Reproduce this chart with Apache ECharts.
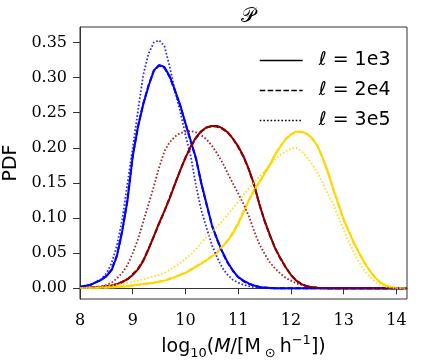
<!DOCTYPE html>
<html>
<head>
<meta charset="utf-8">
<script src="https://cdn.jsdelivr.net/npm/echarts@6/dist/echarts.min.js"></script>
<style>html,body{margin:0;padding:0;background:#fff;}#c{width:424px;height:364px;}</style>
</head>
<body>
<div id="c"></div>
<script>
// x grid (log10 M)
const xs = [8.0, 8.2, 8.4, 8.5, 8.6, 8.7, 8.8, 8.9,
  9.0, 9.1, 9.2, 9.3, 9.4, 9.5, 9.6, 9.7, 9.8, 9.9,
  10.0, 10.1, 10.2, 10.3, 10.4, 10.5, 10.6, 10.7, 10.8, 10.9,
  11.0, 11.1, 11.2, 11.3, 11.4, 11.5, 11.6, 11.7, 11.8, 11.9,
  12.0, 12.1, 12.2, 12.3, 12.4, 12.5, 12.6, 12.7, 12.8, 12.9,
  13.0, 13.1, 13.2, 13.3, 13.4, 13.5, 13.6, 13.7, 13.8, 13.9,
  14.0, 14.2];

// blue
const blueSolid = [0.002, 0.005, 0.012, 0.017, 0.026, 0.046, 0.081, 0.125,
  0.188, 0.230, 0.262, 0.288, 0.310, 0.318, 0.315, 0.302, 0.282, 0.261,
  0.235, 0.210, 0.185, 0.150, 0.120, 0.090, 0.070, 0.052, 0.037, 0.025,
  0.016, 0.011, 0.007, 0.004, 0.002, 0.001, 0.0005, 0, 0, 0,
  0, 0, 0, 0, 0, 0, 0, 0, 0, 0,
  0, 0, 0, 0, 0, 0, 0, 0, 0, 0,
  0, 0];
const blueDashed = [0.002, 0.005, 0.012, 0.018, 0.027, 0.047, 0.082, 0.126,
  0.189, 0.231, 0.263, 0.289, 0.310, 0.317, 0.314, 0.301, 0.281, 0.260,
  0.234, 0.209, 0.184, 0.149, 0.119, 0.090, 0.069, 0.051, 0.036, 0.025,
  0.016, 0.010, 0.006, 0.004, 0.002, 0.001, 0.0005, 0, 0, 0,
  0, 0, 0, 0, 0, 0, 0, 0, 0, 0,
  0, 0, 0, 0, 0, 0, 0, 0, 0, 0,
  0, 0];
const blueDotted = [0.002, 0.005, 0.013, 0.021, 0.036, 0.061, 0.098, 0.149,
  0.200, 0.253, 0.304, 0.334, 0.350, 0.353, 0.345, 0.316, 0.281, 0.252,
  0.218, 0.188, 0.146, 0.111, 0.086, 0.062, 0.044, 0.029, 0.019, 0.012,
  0.008, 0.005, 0.003, 0.0015, 0.001, 0.0005, 0, 0, 0, 0,
  0, 0, 0, 0, 0, 0, 0, 0, 0, 0,
  0, 0, 0, 0, 0, 0, 0, 0, 0, 0,
  0, 0];

// dark red
const redSolid = [0.0005, 0.001, 0.002, 0.003, 0.004, 0.006, 0.009, 0.013,
  0.019, 0.027, 0.039, 0.056, 0.074, 0.093, 0.110, 0.128, 0.148, 0.168,
  0.186, 0.202, 0.215, 0.224, 0.229, 0.231, 0.231, 0.228, 0.222, 0.213,
  0.202, 0.188, 0.170, 0.148, 0.120, 0.096, 0.076, 0.057, 0.043, 0.030,
  0.019, 0.011, 0.006, 0.003, 0.0015, 0.0008, 0.0003, 0, 0, 0,
  0, 0, 0, 0, 0, 0, 0, 0, 0, 0,
  0, 0];
const redDashed = [0.0005, 0.001, 0.002, 0.003, 0.004, 0.006, 0.009, 0.013,
  0.020, 0.028, 0.040, 0.056, 0.074, 0.092, 0.110, 0.129, 0.149, 0.168,
  0.186, 0.201, 0.214, 0.223, 0.229, 0.231, 0.230, 0.227, 0.222, 0.213,
  0.201, 0.187, 0.169, 0.147, 0.120, 0.096, 0.075, 0.057, 0.042, 0.030,
  0.019, 0.011, 0.006, 0.003, 0.0015, 0.0008, 0.0003, 0, 0, 0,
  0, 0, 0, 0, 0, 0, 0, 0, 0, 0,
  0, 0];
const redDotted = [0.0005, 0.001, 0.003, 0.005, 0.008, 0.014, 0.022, 0.033,
  0.050, 0.070, 0.095, 0.120, 0.145, 0.172, 0.195, 0.208, 0.216, 0.221,
  0.223, 0.224, 0.222, 0.218, 0.212, 0.203, 0.192, 0.179, 0.164, 0.149,
  0.135, 0.120, 0.103, 0.082, 0.063, 0.049, 0.037, 0.028, 0.021, 0.015,
  0.011, 0.007, 0.005, 0.003, 0.002, 0.001, 0.0005, 0, 0, 0,
  0, 0, 0, 0, 0, 0, 0, 0, 0, 0,
  0, 0];

// gold
const goldSolid = [0.0003, 0.0005, 0.001, 0.0012, 0.0015, 0.002, 0.0025, 0.003,
  0.004, 0.005, 0.006, 0.007, 0.008, 0.009, 0.011, 0.013, 0.016, 0.019,
  0.022, 0.026, 0.031, 0.035, 0.040, 0.045, 0.051, 0.059, 0.068, 0.078,
  0.092, 0.108, 0.125, 0.139, 0.151, 0.163, 0.176, 0.190, 0.202, 0.212,
  0.219, 0.223, 0.223, 0.220, 0.214, 0.203, 0.186, 0.165, 0.142, 0.119,
  0.098, 0.080, 0.064, 0.049, 0.036, 0.024, 0.015, 0.008, 0.004, 0.0015,
  0.0005, 0];
const goldDashed = [0.0003, 0.0005, 0.001, 0.0012, 0.0015, 0.002, 0.0025, 0.003,
  0.004, 0.005, 0.006, 0.007, 0.008, 0.010, 0.011, 0.014, 0.016, 0.020,
  0.022, 0.027, 0.031, 0.036, 0.040, 0.046, 0.051, 0.060, 0.068, 0.080,
  0.093, 0.110, 0.125, 0.141, 0.151, 0.165, 0.176, 0.191, 0.202, 0.213,
  0.219, 0.223, 0.222, 0.220, 0.213, 0.204, 0.185, 0.167, 0.141, 0.121,
  0.097, 0.081, 0.063, 0.050, 0.035, 0.025, 0.015, 0.008, 0.004, 0.0015,
  0.0005, 0];
const goldDotted = [0.0005, 0.001, 0.002, 0.003, 0.004, 0.005, 0.006, 0.008,
  0.009, 0.011, 0.013, 0.015, 0.017, 0.019, 0.022, 0.026, 0.031, 0.036,
  0.042, 0.048, 0.056, 0.065, 0.073, 0.080, 0.088, 0.096, 0.105, 0.114,
  0.123, 0.133, 0.142, 0.151, 0.159, 0.167, 0.175, 0.183, 0.190, 0.195,
  0.199, 0.200, 0.195, 0.187, 0.177, 0.165, 0.150, 0.134, 0.120, 0.101,
  0.083, 0.066, 0.050, 0.036, 0.025, 0.016, 0.009, 0.005, 0.002, 0.001,
  0.0003, 0];

const xTicks = [8, 9, 10, 11, 12, 13, 14];
const yTicks = [0, 0.05, 0.10, 0.15, 0.20, 0.25, 0.30, 0.35];
const legendNames = ['ℓ = 1e3', 'ℓ = 2e4', 'ℓ = 3e5'];

const colors = {blue: '#0000ff', red: '#8b0000', gold: '#ffd700'};
const dashTypes = ['solid', [5.5, 2.4], [1.6, 2.0]];

function mk(arr, color, styleIdx) {
  return {
    type: 'line', data: xs.map((x, i) => [x, arr[i]]), symbol: 'none', silent: true,
    color: color,
    lineStyle: {color: color, width: styleIdx === 2 ? 1.8 : 2, type: dashTypes[styleIdx],
      opacity: styleIdx === 2 ? 0.85 : 1},
    z: 2 + styleIdx
  };
}

const series = [
  mk(blueSolid, colors.blue, 0), mk(blueDashed, colors.blue, 1), mk(blueDotted, colors.blue, 2),
  mk(redSolid, colors.red, 0), mk(redDashed, colors.red, 1), mk(redDotted, colors.red, 2),
  mk(goldSolid, colors.gold, 0), mk(goldDashed, colors.gold, 1), mk(goldDotted, colors.gold, 2)
];
legendNames.forEach((n, i) => {
  series.push({type: 'line', name: n, data: [], symbol: 'none', color: '#000',
    lineStyle: {color: '#000', width: 1.5, type: dashTypes[i]}});
});

const chart = echarts.init(document.getElementById('c'), null, {renderer: 'canvas'});
chart.setOption({
  animation: false,
  backgroundColor: '#fff',
  title: {text: '𝒫', left: 243, top: 2, textAlign: 'center',
    textStyle: {fontFamily: 'DejaVu Serif', fontSize: 20, fontWeight: 'normal', color: '#000'}},
  grid: {left: 80, right: 17, top: 27, bottom: 65, show: true, borderColor: '#333', borderWidth: 1,
    outerBoundsMode: 'none', containLabel: false},
  legend: {
    orient: 'vertical', left: 254, top: 46, itemWidth: 43, itemHeight: 20, itemGap: 11,
    selectedMode: false, data: legendNames,
    itemStyle: {opacity: 0, borderWidth: 0},
    lineStyle: {width: 1.5, color: '#000'},
    textStyle: {fontFamily: 'DejaVu Sans', fontSize: 19, color: '#000', padding: [0, 0, 0, 11]}
  },
  xAxis: {
    type: 'value', min: 8, max: 14.2,
    axisLine: {show: true, lineStyle: {color: '#333', width: 1}},
    axisTick: {show: true, length: 6, customValues: xTicks, lineStyle: {color: '#333', width: 1}},
    axisLabel: {customValues: xTicks, margin: 14, fontFamily: 'DejaVu Serif', fontSize: 16, color: '#000'},
    splitLine: {show: false},
    name: 'log{sub|10}({it|M}/[M{sub2|⊙}h{sup|−1}])',
    nameLocation: 'middle', nameGap: 26,
    nameTextStyle: {fontFamily: 'DejaVu Sans', fontSize: 19, color: '#000', lineHeight: 26,
      rich: {
        sub: {fontFamily: 'DejaVu Sans', fontSize: 13, verticalAlign: 'bottom', lineHeight: 13},
        sub2: {fontFamily: 'DejaVu Sans', fontSize: 13, verticalAlign: 'bottom', lineHeight: 13, padding: [0, 4, 0, 4]},
        sup: {fontFamily: 'DejaVu Sans', fontSize: 13, verticalAlign: 'top', lineHeight: 13},
        it: {fontFamily: 'DejaVu Sans', fontSize: 19, fontStyle: 'italic'}
      }}
  },
  yAxis: {
    type: 'value', min: -0.0152, max: 0.372,
    axisLine: {show: true, lineStyle: {color: '#333', width: 1}},
    axisTick: {show: true, length: 7, customValues: yTicks, lineStyle: {color: '#333', width: 1}},
    axisLabel: {customValues: yTicks, margin: 13, fontFamily: 'DejaVu Serif', fontSize: 16, color: '#000',
      formatter: v => v.toFixed(2)},
    splitLine: {show: false},
    name: 'PDF', nameLocation: 'middle', nameGap: 56, nameRotate: 90,
    nameTextStyle: {fontFamily: 'DejaVu Sans', fontSize: 19, color: '#000'}
  },
  series: series
});
</script>
</body>
</html>
